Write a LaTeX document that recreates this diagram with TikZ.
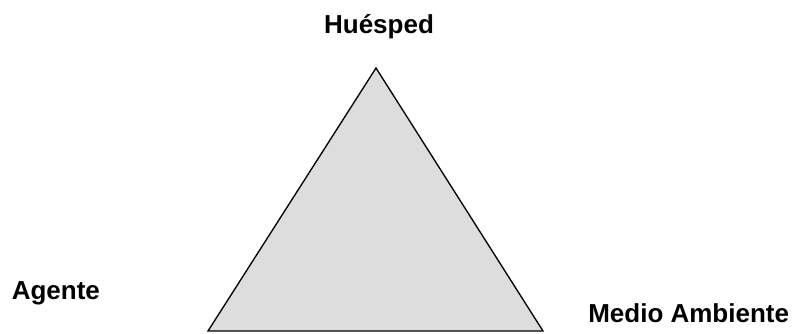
\documentclass[tikz,border=0pt]{standalone}
\usepackage{fontspec}
\setmainfont{Liberation Sans}
\usepackage{xcolor}
\usepackage{tikz}
\usetikzlibrary{positioning}
\definecolor{trifill}{HTML}{DDDDDD}

\begin{document}
\begin{tikzpicture}[x=0.75pt,y=-0.75pt,
    vertexlabel/.style={font=\fontsize{19.5}{23}\selectfont\bfseries,inner sep=0pt}]
    % Canvas (pixel units, origin top left)
    \useasboundingbox (0,0) rectangle (796,333);
    % Corners of the triangle
    \coordinate (apex) at (376,68);
    \coordinate (leftc) at (208,331);
    \coordinate (rightc) at (543,331);
    \filldraw[fill=trifill,draw=black,line width=1pt,line join=miter]
      (apex) -- (leftc) -- (rightc) -- cycle;
    % Labels
    \node[vertexlabel,anchor=base] (huesped) at (379,33) {Huésped};
    \node[vertexlabel,anchor=base west] (agente) at (11.5,299) {Agente};
    \node[vertexlabel,anchor=base west] (medio) at (588,322.5) {Medio Ambiente};
\end{tikzpicture}
\end{document}
